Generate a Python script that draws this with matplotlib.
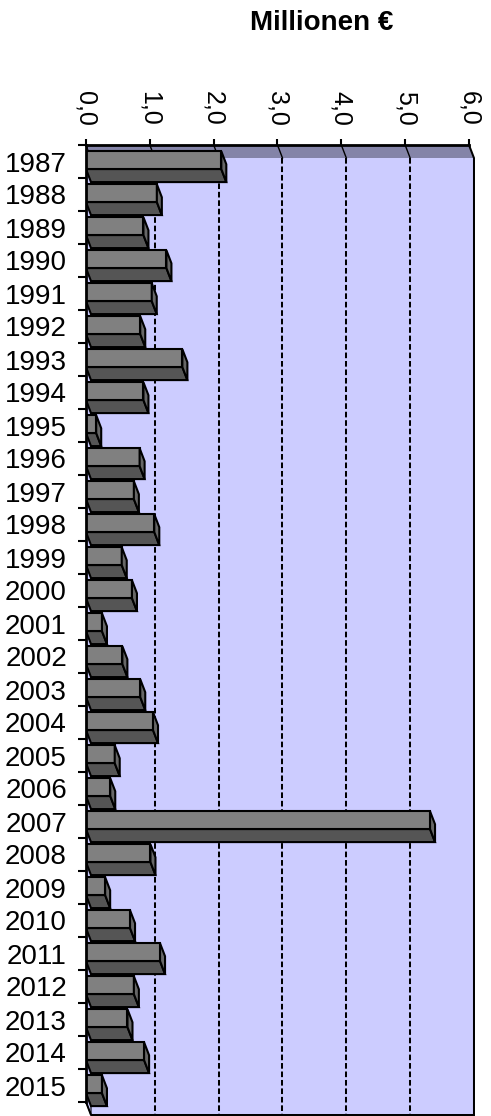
import matplotlib
matplotlib.use('Agg')
import matplotlib.pyplot as plt
from matplotlib.patches import Polygon

# ---- data ----
years = [str(y) for y in range(1987, 2016)]
values = [2.12, 1.11, 0.90, 1.26, 1.03, 0.85, 1.51, 0.90, 0.16, 0.84,
          0.75, 1.07, 0.56, 0.72, 0.25, 0.57, 0.85, 1.05, 0.45, 0.38,
          5.39, 1.01, 0.30, 0.69, 1.16, 0.75, 0.65, 0.91, 0.25]
value_ticks = [0, 1, 2, 3, 4, 5, 6]
value_tick_labels = ['0,0', '1,0', '2,0', '3,0', '4,0', '5,0', '6,0']
title = 'Millionen €'

FONT = 'Liberation Sans'
W, H = 491, 1116
fig = plt.figure(figsize=(W / 100, H / 100), dpi=100)
PT = 72 / 100  # points per pixel

# geometry (pixels)
px_x = 63.83      # px per value unit
px_y = 33.0       # px per category
left_px, top_px = 86, 145
vmax = value_ticks[-1]
n = len(years)
dx = 5 / px_x
dy = 13 / px_y
ax_w = px_x * (vmax + dx)
ax_h = px_y * (n + dy)
ax = fig.add_axes([left_px / W, 1 - (top_px + ax_h) / H, ax_w / W, ax_h / H])
ax.set_xlim(0, vmax + dx)
ax.set_ylim(n + dy, 0)
for s in ax.spines.values():
    s.set_visible(False)
ax.set_facecolor('none')

wall = '#CCCCFF'
ceil = '#8484A8'
lw = 1.45

# back wall
ax.add_patch(Polygon([(dx, dy), (vmax + dx, dy), (vmax + dx, n + dy), (dx, n + dy)],
                     closed=True, facecolor=wall, edgecolor='none', zorder=0))
# ceiling strip
ax.add_patch(Polygon([(0, 0), (vmax, 0), (vmax + dx, dy), (dx, dy)],
                     closed=True, facecolor=ceil, edgecolor='none', zorder=0.5))
# floor strip (left)
ax.add_patch(Polygon([(0, 0), (dx, dy), (dx, n + dy), (0, n)],
                     closed=True, facecolor=wall, edgecolor='black', lw=0.8, zorder=0.5))

# gridlines
for v in value_ticks[1:-1]:
    ax.plot([v + dx, v + dx], [dy, n + dy], color='black', lw=lw,
            ls=(0, (2.8, 1.4)), zorder=1)
    ax.plot([v, v + dx], [0, dy], color='black', lw=1.0, zorder=1)

# bars
off, fh = 0.19, 0.54
front_c, bottom_c, end_c = '#808080', '#555555', '#676767'
blw = 1.5
for i, v in enumerate(values):
    y0 = i + off
    y1 = y0 + fh
    ax.barh(y0 + fh / 2, v, height=fh, left=0, color=front_c, edgecolor='black',
            lw=blw, zorder=3)
    ax.add_patch(Polygon([(0, y1), (v, y1), (v + dx, y1 + dy), (dx, y1 + dy)],
                         closed=True, facecolor=bottom_c, edgecolor='black', lw=blw,
                         joinstyle='miter', zorder=3))
    ax.add_patch(Polygon([(v, y0), (v + dx, y0 + dy), (v + dx, y1 + dy), (v, y1)],
                         closed=True, facecolor=end_c, edgecolor='black', lw=blw,
                         joinstyle='miter', zorder=3))

# frame lines
ax.plot([0, vmax], [0, 0], color='black', lw=2.0, zorder=5, clip_on=False, solid_capstyle='projecting')
ax.plot([0, 0], [0, n], color='black', lw=2.0, zorder=5, clip_on=False, solid_capstyle='projecting')
ax.plot([vmax, vmax + dx, vmax + dx], [0, dy, n + dy], color='black', lw=lw, zorder=5, clip_on=False)
ax.plot([0, dx, vmax + dx], [n, n + dy, n + dy], color='black', lw=lw, zorder=5, clip_on=False)

# value axis on top
ax.xaxis.tick_top()
ax.set_xticks(value_ticks)
ax.set_xticklabels(value_tick_labels, rotation=-90, fontsize=18, family=FONT)
ax.tick_params(axis='x', which='major', direction='out', length=4, width=1.5,
               pad=14 * PT, top=True, bottom=False)
for lab in ax.get_xticklabels():
    lab.set_ha('center')
    lab.set_va('bottom')

# category axis
ax.set_yticks([i + 0.5 for i in range(n)])
ax.set_yticklabels(years, fontsize=20, family=FONT)
ax.set_yticks(list(range(n + 1)), minor=True)
ax.tick_params(axis='y', which='major', length=0, pad=19 * PT)
ax.tick_params(axis='y', which='minor', direction='out', length=6, width=1.5)

fig.text(321.5 / W, 1 - 23 / H, title, ha='center', va='center',
         fontsize=20, fontweight='bold', family=FONT)

fig.savefig('out.png', dpi=100, facecolor='white')
